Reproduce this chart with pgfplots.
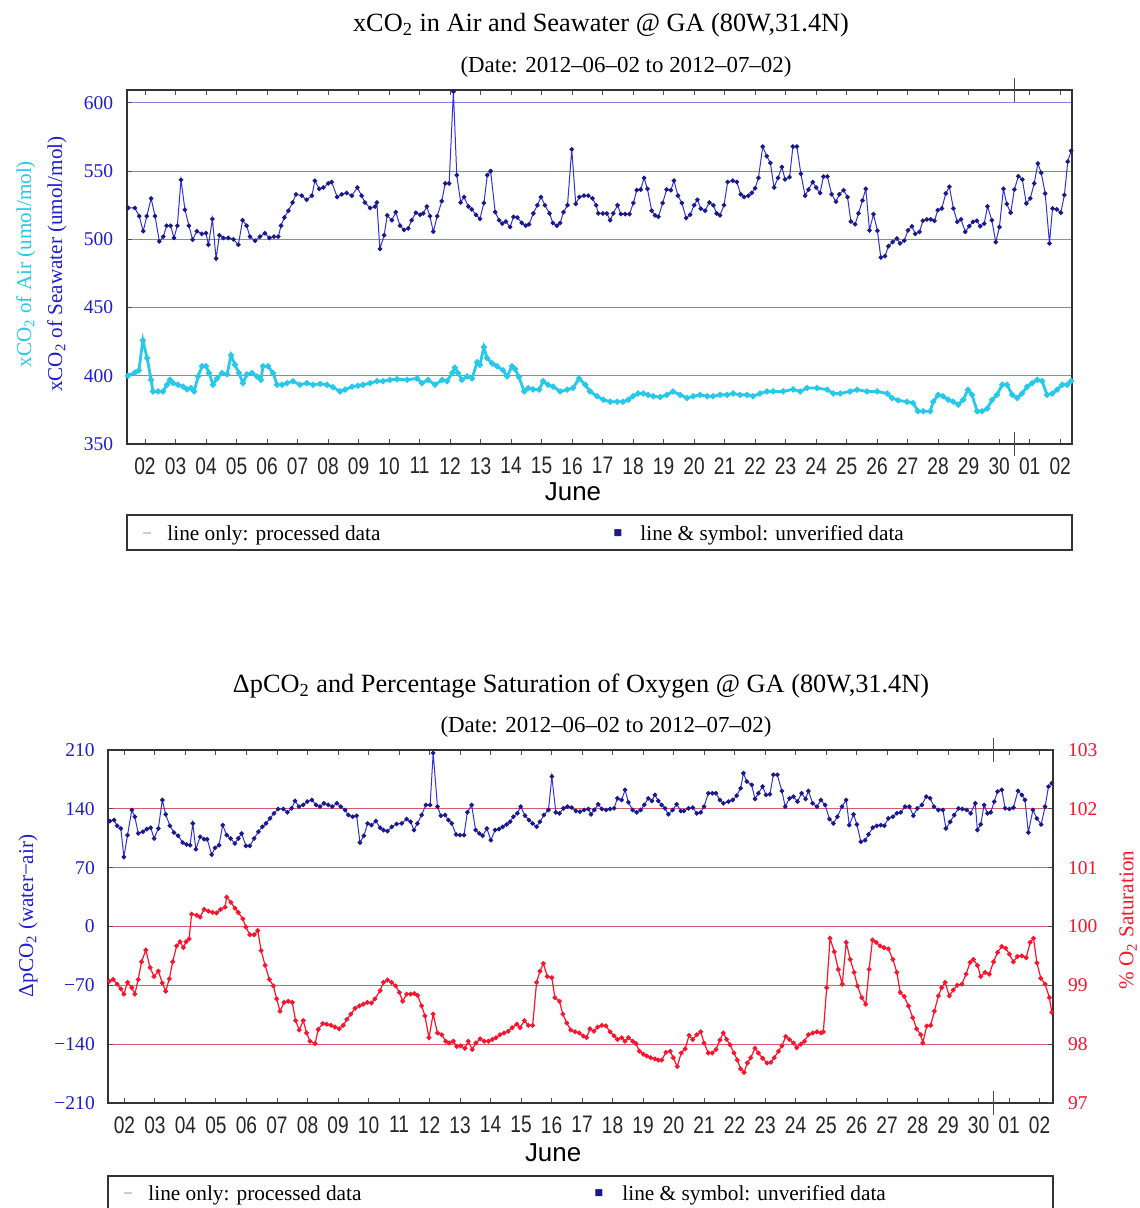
\documentclass[border=0pt]{standalone}
\usepackage{fontspec}
\setmainfont{Liberation Serif}
\setsansfont{Liberation Sans}
\newfontfamily\dejavu{DejaVu Sans}
\usepackage{graphicx}
\usepackage{pgfplots}
\usepackage{pgfplotstable}
\pgfplotsset{compat=1.18}

\definecolor{swblue}{RGB}{50,50,215}
\definecolor{swmark}{RGB}{25,25,140}
\definecolor{aircyan}{RGB}{40,200,235}
\definecolor{gridblue}{RGB}{130,130,225}
\definecolor{gridred}{RGB}{215,90,110}
\definecolor{o2red}{RGB}{250,20,45}
\definecolor{lblblue}{RGB}{30,30,205}
\newcommand{\xl}[1]{\scalebox{1}[1.25]{#1}}

\pgfplotstableread{
d v
1.45 523
1.67 523
1.81 517
1.94 506
2.06 517
2.20 530
2.33 517
2.47 498.5
2.60 502
2.71 510
2.84 510
2.95 501
3.06 510
3.18 543.6
3.31 521.7
3.44 510
3.56 499.7
3.70 506
3.86 504
4.00 504.5
4.08 496
4.21 514.9
4.33 486
4.44 503
4.57 501
4.73 501
4.90 500
5.06 496
5.20 514
5.33 510
5.44 502
5.61 499
5.77 502
5.93 504.5
6.08 501
6.23 502
6.37 502
6.46 510
6.57 516
6.70 521
6.84 527
6.95 533
7.14 532
7.30 529
7.47 532
7.57 543
7.71 537
7.85 538
8.01 541
8.12 542
8.30 531
8.45 533
8.61 534
8.78 532
8.96 538
9.10 532
9.21 527
9.38 523
9.54 524
9.60 527
9.70 493
9.84 503
9.94 517.6
10.09 514
10.22 520
10.36 510
10.49 507
10.63 508
10.74 514
10.88 519.5
11.02 518
11.12 519
11.24 524
11.34 517
11.45 505.6
11.58 517
11.73 528
11.84 541
11.97 541
12.11 608.3
12.22 547
12.35 527
12.46 531
12.60 524
12.71 522
12.85 518
12.98 515
13.11 526.6
13.22 547
13.33 550
13.48 520
13.61 514
13.71 511.5
13.83 513
13.97 509
14.08 516.5
14.21 516
14.35 512
14.48 510
14.59 511
14.73 519
14.86 525
14.98 531
15.11 525
15.26 519
15.37 512
15.50 510
15.61 512
15.72 520
15.85 525
15.99 566
16.12 526
16.24 531
16.39 532
16.53 532
16.67 530
16.79 525
16.86 519
17.01 519
17.14 519
17.25 514
17.35 519
17.49 525
17.60 518.5
17.74 518.5
17.88 518.5
18.01 526.6
18.12 536
18.25 536.5
18.36 545
18.47 537
18.61 521
18.72 517.6
18.83 516.5
18.97 526.6
19.10 536.5
19.24 536
19.34 543
19.47 532
19.60 526.6
19.74 515.6
19.87 518
20.00 525
20.11 529
20.22 522.5
20.36 521
20.50 527
20.63 525
20.74 519
20.85 517.6
20.98 525
21.10 542
21.27 543
21.40 542
21.53 533
21.64 531
21.78 532
21.89 534
22.00 537.5
22.11 545
22.25 568
22.38 561
22.50 556
22.62 538
22.75 545
22.88 553
22.98 544
23.13 545.6
23.24 568
23.37 568
23.50 548
23.64 532
23.75 536.5
23.89 542
24.00 538
24.13 534
24.24 546
24.37 546
24.51 533
24.65 527.6
24.76 533
24.90 536
25.03 531
25.14 513
25.28 511
25.39 519
25.52 528.6
25.63 537
25.75 506.6
25.88 518.5
26.01 506.3
26.12 486.7
26.26 487.7
26.37 495
26.51 498
26.65 500.6
26.75 497
26.89 499
27.01 506.6
27.14 509.5
27.25 504
27.39 505.5
27.50 513.6
27.63 514.6
27.76 514.6
27.88 513.6
27.99 521.4
28.12 522.6
28.25 533.6
28.37 538.5
28.50 522.6
28.63 512.8
28.75 514.6
28.89 505.5
29.02 509.6
29.14 512.8
29.27 513.6
29.38 509.6
29.51 511.5
29.62 524.2
29.76 514
29.89 498
30.01 509
30.14 537
30.25 525.9
30.38 519.5
30.50 536.6
30.63 546.3
30.76 543.9
30.89 526.3
31.02 530
31.15 541
31.27 555.6
31.38 548.8
31.51 533.6
31.65 497
31.75 522.6
31.89 522
32.02 519.5
32.14 532.5
32.25 557
32.36 565
}\seawater

\pgfplotstableread{
d v
1.44 400
1.67 402.4
1.80 404
1.93 426
2.07 413
2.20 397
2.26 388.5
2.43 388.5
2.59 388.5
2.72 393.4
2.82 397
2.92 394.6
3.08 393.4
3.25 392
3.38 390
3.51 391
3.61 388.5
3.74 399.5
3.87 407
4.00 407
4.10 402
4.23 393.4
4.36 398
4.52 402
4.69 401
4.82 415
4.95 408
5.08 402
5.21 394.6
5.34 401
5.51 402
5.67 399.5
5.80 397
5.87 407
6.03 407
6.20 402
6.33 393.4
6.49 393.4
6.66 394.6
6.85 396
7.08 393.4
7.31 394.6
7.51 393.4
7.74 394
7.97 393.4
8.16 391.7
8.39 388.5
8.56 389.8
8.79 392
8.98 392.7
9.15 393.4
9.38 394.6
9.61 396
9.80 396
10.03 397
10.26 397.5
10.59 397
10.92 398
11.08 394.6
11.28 397
11.51 393.4
11.74 397
11.90 396
12.07 402
12.16 406
12.26 402
12.39 397
12.56 399.5
12.72 398
12.89 410
12.98 408
13.11 421
13.21 413
13.38 409
13.54 407
13.74 404
13.87 399.5
14.03 407
14.13 405
14.26 399
14.43 388.5
14.56 391
14.72 390
14.92 389.8
15.05 396
15.21 393.4
15.38 392
15.61 388.5
15.84 389.8
16.03 391
16.23 398
16.43 393.4
16.59 388.5
16.82 385
17.02 382.4
17.25 381
17.48 381
17.67 381
17.84 382.4
18.00 385
18.16 387
18.33 387
18.49 386
18.66 385
18.89 384.4
19.11 386
19.31 388.5
19.54 386
19.77 383.7
19.97 385
20.20 386
20.43 385
20.62 385
20.85 386
21.08 386
21.28 387
21.51 386
21.74 386
21.93 385
22.16 387
22.39 388.5
22.59 388.5
22.92 388.5
23.25 390
23.48 388.5
23.70 391
24.03 391
24.36 389.8
24.56 387
24.79 387
25.11 388.5
25.34 389.8
25.67 388.5
26.00 388.5
26.33 387
26.49 383.7
26.69 382
26.98 381
27.18 380
27.34 374
27.51 374
27.74 374
27.84 381
28.00 386
28.16 385
28.33 382.4
28.49 381
28.66 378.8
28.82 382.4
28.98 389.8
29.11 386
29.28 374
29.44 374
29.61 376
29.77 382.4
29.93 386
30.10 393.4
30.26 393.4
30.43 386
30.59 383.7
30.75 387
30.92 392
31.08 394.6
31.25 397
31.41 396
31.57 386
31.74 387
31.90 389.8
32.07 393.4
32.23 393.4
32.36 396
}\air

\pgfplotstableread{
d v
1.52 125.4
1.66 126.6
1.76 119.8
1.88 116.6
1.98 82.8
2.10 108.7
2.24 138.6
2.34 130.6
2.45 110.7
2.60 112.7
2.73 115.9
2.86 117.5
2.97 104.7
3.11 116.6
3.24 150.5
3.35 133.4
3.49 119.8
3.62 111.8
3.76 107.9
3.91 99.9
4.04 97.5
4.15 96.7
4.24 122.6
4.34 91.9
4.48 106.7
4.61 103.9
4.71 103.9
4.86 85.5
4.97 93.5
5.10 96.7
5.22 120.6
5.35 108.7
5.48 104.7
5.62 98.7
5.73 104.7
5.84 110.7
5.98 95.9
6.11 95.9
6.25 104.7
6.39 112.7
6.52 118.6
6.64 122.6
6.77 128.6
6.90 134.6
7.04 139.8
7.21 139.8
7.34 135.8
7.48 140.6
7.59 149.4
7.72 142.6
7.86 144.6
7.99 148.6
8.14 150.5
8.28 144.6
8.41 142.6
8.54 146.6
8.68 144.6
8.81 142.6
8.96 146.6
9.09 142.6
9.23 138.6
9.34 132.6
9.48 130.6
9.61 131.8
9.72 99.9
9.85 107.9
9.97 122.6
10.10 120.6
10.24 125.4
10.38 117.5
10.49 114.7
10.62 113.5
10.76 118.5
10.92 122
11.09 122.6
11.25 127.8
11.38 124.6
11.49 114.7
11.60 122.6
11.74 132.6
11.88 144.6
12.02 144.6
12.12 206.4
12.26 142.6
12.37 131.8
12.51 132.6
12.62 126.6
12.73 122.6
12.87 109.5
13.00 108.7
13.13 108.7
13.24 135.8
13.38 144.6
13.51 114.7
13.63 110.7
13.74 107.9
13.88 116.6
14.01 102.7
14.15 114.7
14.28 115.9
14.40 118.6
14.53 121.4
14.64 124.6
14.75 130.6
14.88 134.6
14.99 142.6
15.13 131.8
15.26 126.6
15.38 122.6
15.51 118.6
15.62 124.6
15.75 132.6
15.90 138.6
16.01 178.5
16.14 135.8
16.26 134.6
16.39 140.6
16.52 142.6
16.66 141.4
16.80 137.4
16.93 136.6
17.07 138.6
17.21 139.8
17.29 133.4
17.40 138.6
17.53 145.4
17.65 139.8
17.79 138.6
17.92 139.8
18.05 140.6
18.16 152.5
18.30 150.5
18.41 162.5
18.52 147.8
18.66 138.6
18.79 135.8
18.92 138.6
19.04 144.6
19.17 152.5
19.29 149.4
19.39 156.5
19.50 149.4
19.61 144.6
19.72 140.6
19.83 133.4
19.97 138.6
20.10 145.4
20.24 137.4
20.34 137.4
20.49 140.6
20.63 141.4
20.76 134.6
20.89 135.8
21.00 142.6
21.14 158.5
21.27 158.5
21.39 158.5
21.52 150.5
21.63 146.6
21.80 148.6
21.94 150.5
22.07 155.7
22.20 164.5
22.29 182.4
22.40 172.5
22.56 168.5
22.67 151.7
22.78 158.5
22.92 166.5
23.03 156.5
23.16 157.3
23.27 180.5
23.40 180.5
23.55 161.3
23.66 142.6
23.80 152.5
23.93 154.5
24.06 148.6
24.20 158.5
24.33 151.7
24.42 161.3
24.56 146.6
24.70 142.6
24.83 150.5
24.97 144.6
25.11 127.8
25.24 122.6
25.37 130.6
25.52 142.6
25.66 150.5
25.76 120.6
25.90 133.4
26.01 121.4
26.14 100.7
26.28 102.7
26.39 109.5
26.53 117.5
26.66 119.8
26.79 120.6
26.91 119.8
27.04 128.6
27.19 130.6
27.32 134.6
27.45 135.8
27.59 142.6
27.73 142.6
27.86 131.8
27.99 140.6
28.14 144.6
28.28 154.5
28.41 152.5
28.54 142.6
28.68 138.6
28.83 138.6
28.93 116.6
29.07 124.6
29.20 132.6
29.34 140.6
29.47 139.8
29.61 138.6
29.74 134.6
29.89 146.6
29.96 114.7
30.07 121.4
30.18 144.6
30.29 134.6
30.40 135.8
30.51 148.6
30.62 160.5
30.76 162.5
30.87 140.6
31.01 139.8
31.14 141.4
31.29 161.3
31.42 156.5
31.52 150.5
31.63 111.8
31.78 138.6
31.91 128.6
32.05 121.4
32.18 142.6
32.29 166.5
32.40 170.5
}\dpco

\pgfplotstableread{
d v
1.50 99.07
1.63 99.10
1.76 99.02
1.88 98.94
1.98 98.85
2.10 99.05
2.24 98.96
2.34 98.85
2.45 99.10
2.56 99.40
2.70 99.60
2.84 99.30
2.97 99.15
3.11 99.24
3.24 99.04
3.35 98.90
3.47 99.11
3.58 99.40
3.71 99.67
3.82 99.74
3.93 99.64
4.02 99.74
4.12 99.79
4.20 100.21
4.37 100.19
4.48 100.16
4.61 100.29
4.75 100.26
4.89 100.24
5.02 100.23
5.15 100.29
5.30 100.33
5.35 100.50
5.49 100.41
5.62 100.31
5.73 100.24
5.88 100.13
5.98 99.99
6.11 99.86
6.25 99.86
6.37 99.93
6.48 99.59
6.61 99.34
6.75 99.10
6.88 98.99
6.99 98.77
7.10 98.56
7.23 98.71
7.37 98.73
7.50 98.71
7.61 98.40
7.73 98.24
7.86 98.40
7.97 98.19
8.08 98.05
8.25 98.01
8.35 98.25
8.50 98.35
8.63 98.34
8.77 98.32
8.90 98.29
9.04 98.26
9.17 98.32
9.29 98.42
9.42 98.51
9.56 98.61
9.70 98.65
9.83 98.68
9.96 98.71
10.10 98.70
10.21 98.77
10.38 98.91
10.49 99.05
10.62 99.09
10.76 99.05
10.89 98.99
11.01 98.88
11.12 98.73
11.25 98.85
11.38 98.85
11.50 98.86
11.61 98.83
11.74 98.65
11.85 98.48
11.98 98.11
12.12 98.51
12.26 98.19
12.40 98.16
12.53 98.05
12.65 98.02
12.78 98.05
12.89 97.96
13.02 97.97
13.16 97.93
13.27 98.05
13.40 97.91
13.52 98.02
13.66 98.09
13.79 98.05
13.93 98.05
14.06 98.08
14.18 98.11
14.31 98.16
14.44 98.19
14.58 98.22
14.71 98.28
14.86 98.34
14.97 98.28
15.11 98.40
15.24 98.32
15.38 98.32
15.51 99.05
15.62 99.24
15.73 99.37
15.86 99.15
16.01 99.13
16.11 98.79
16.26 98.73
16.37 98.51
16.50 98.36
16.63 98.24
16.77 98.21
16.91 98.19
17.04 98.14
17.15 98.11
17.26 98.26
17.39 98.22
17.51 98.29
17.65 98.32
17.78 98.31
17.92 98.21
18.05 98.14
18.16 98.08
18.30 98.11
18.41 98.05
18.52 98.11
18.66 98.05
18.77 98.01
18.88 97.88
19.01 97.83
19.12 97.80
19.25 97.77
19.39 97.75
19.50 97.73
19.61 97.73
19.75 97.86
19.89 97.88
19.99 97.77
20.12 97.62
20.25 97.85
20.38 97.92
20.51 98.15
20.63 98.08
20.76 98.16
20.89 98.21
21.00 98.02
21.14 97.85
21.27 97.85
21.39 97.91
21.52 98.07
21.63 98.19
21.74 98.08
21.85 97.99
21.98 97.85
22.09 97.73
22.20 97.58
22.31 97.52
22.42 97.68
22.53 97.77
22.67 97.93
22.78 97.85
22.92 97.76
23.06 97.68
23.19 97.69
23.30 97.77
23.44 97.88
23.55 97.97
23.68 98.13
23.80 98.08
23.93 98.02
24.04 97.94
24.17 98.00
24.29 98.05
24.42 98.16
24.56 98.19
24.70 98.21
24.83 98.19
24.91 98.21
25.02 98.96
25.13 99.80
25.27 99.57
25.40 99.27
25.53 99.02
25.66 99.73
25.79 99.44
25.92 99.22
26.03 98.99
26.17 98.79
26.30 98.68
26.41 99.27
26.52 99.77
26.64 99.73
26.77 99.67
26.90 99.64
27.04 99.62
27.19 99.44
27.32 99.22
27.43 98.88
27.56 98.81
27.70 98.65
27.84 98.45
27.97 98.26
28.10 98.16
28.17 98.02
28.30 98.31
28.43 98.32
28.55 98.56
28.68 98.82
28.79 98.96
28.90 99.05
29.04 98.82
29.17 98.92
29.30 99.00
29.45 99.02
29.59 99.19
29.72 99.39
29.83 99.44
29.96 99.34
30.07 99.15
30.21 99.22
30.35 99.19
30.49 99.40
30.62 99.56
30.76 99.66
30.89 99.63
31.01 99.53
31.14 99.40
31.27 99.49
31.42 99.50
31.56 99.47
31.69 99.73
31.80 99.80
31.91 99.38
32.04 99.12
32.18 99.02
32.32 98.79
32.40 98.54
}\otwo

\pgfplotsset{
  dayaxis/.style={
    scale only axis,
    axis line style={line width=1.1bp, black!80},
    tick style={black!70, line width=0.5bp},
    major tick length=2.5bp,
    xtick={2,...,32},
    xticklabels={\xl{02},\xl{03},\xl{04},\xl{05},\xl{06},\xl{07},\xl{08},\xl{09},\xl{10},\xl{11},\xl{12},\xl{13},\xl{14},\xl{15},\xl{16},\xl{17},\xl{18},\xl{19},\xl{20},\xl{21},\xl{22},\xl{23},\xl{24},\xl{25},\xl{26},\xl{27},\xl{28},\xl{29},\xl{30},\xl{01},\xl{02}},
    xtick pos=both, xticklabel pos=lower,
    xticklabel style={font=\sffamily\fontsize{9.6}{10}\selectfont, text=black!85, yshift=-3.2bp},
    extra x ticks={30.5}, extra x tick labels={},
    extra x tick style={major tick length=12bp, tick align=center},
    xlabel={June},
    ytick pos=left,
  }
}

\begin{document}
\begin{tikzpicture}[x=0.5bp,y=0.5bp]
\path[use as bounding box] (0,0) rectangle (1140,1208);
\begin{scope}
\clip (0,0) rectangle (1140,1208);
\fill[white] (0,0) rectangle (1140,1208);

% ---------- top chart ----------
\node[font=\fontsize{13.2}{15}\selectfont] at (601,1183) {xCO\textsubscript{2} in Air and Seawater @ GA (80W,31.4N)};
\node[font=\fontsize{11.5}{13}\selectfont] at (626,1141) {(Date: 2012–06–02 to 2012–07–02)};

\begin{axis}[dayaxis,
  at={(63.5bp,382bp)}, anchor=south west,
  width=472.5bp, height=177bp,
  xmin=1.41, xmax=32.39, ymin=350, ymax=609.5,
  ytick={350,400,450,500,550,600},
  yticklabels={350,400,450,500,550,600},
  yticklabel style={font=\fontsize{9.8}{10}\selectfont, text=lblblue, xshift=-3.4bp},
  ymajorgrids, grid style={gridblue, line width=0.45bp},
  xlabel style={font=\sffamily\fontsize{13}{14}\selectfont, at={(axis description cs:0.472,-0.135)}, anchor=center},
  ylabel={\textcolor{aircyan}{xCO\textsubscript{2} of Air (umol/mol)}\\[2.8bp]\textcolor{lblblue}{xCO\textsubscript{2} of Seawater (umol/mol)}},
  ylabel style={font=\fontsize{10.6}{12.7}\selectfont, align=center, at={(axis description cs:-0.0905,0.508)}, anchor=center},
]
\addplot[aircyan, line width=1.4bp, mark=*, mark size=0.7bp, mark options={aircyan}] table[x=d,y=v]{\air};
\addplot[swblue, line width=0.5bp, mark=*, mark size=0.9bp, mark options={swmark, fill=swmark}] table[x=d,y=v]{\seawater};
\end{axis}

% top legend
\draw[black!80, line width=1bp] (127,693) rectangle (1072,658);
\draw[gray!40, line width=1bp] (143,675) -- (151,675);
\node[anchor=west, inner sep=0pt, font=\fontsize{10.7}{12}\selectfont] at (167,673) {line only: processed data};
\node[inner sep=0pt, text=swmark, font=\dejavu\fontsize{4.6}{5}\selectfont] at (618,675) {■};
\node[anchor=west, inner sep=0pt, font=\fontsize{10.7}{12}\selectfont] at (640,673) {line \& symbol: unverified data};

% ---------- bottom chart ----------
\node[font=\fontsize{13.2}{15}\selectfont] at (581,522) {ΔpCO\textsubscript{2} and Percentage Saturation of Oxygen @ GA (80W,31.4N)};
\node[font=\fontsize{11.5}{13}\selectfont] at (606,481) {(Date: 2012–06–02 to 2012–07–02)};

\begin{axis}[dayaxis,
  at={(54bp,52.5bp)}, anchor=south west,
  width=472.5bp, height=176.5bp,
  xmin=1.46, xmax=32.44, ymin=-210, ymax=210,
  ytick={-210,-140,-70,0,70,140,210},
  yticklabels={−210,−140,−70,0,70,140,210},
  yticklabel style={font=\fontsize{9.8}{10}\selectfont, text=lblblue, xshift=-3.1bp},
  ymajorgrids, grid style={gridred, line width=0.45bp},
  xlabel style={font=\sffamily\fontsize{13}{14}\selectfont, at={(axis description cs:0.471,-0.142)}, anchor=center},
  ylabel={ΔpCO\textsubscript{2} (water−air)},
  ylabel style={font=\fontsize{10.6}{12.7}\selectfont, text=lblblue, at={(axis description cs:-0.0847,0.53)}, anchor=center},
]
\addplot[swblue, line width=0.5bp, mark=*, mark size=0.9bp, mark options={swmark, fill=swmark}] table[x=d,y=v]{\dpco};
\end{axis}

\begin{axis}[
  at={(54bp,52.5bp)}, anchor=south west,
  scale only axis, width=472.5bp, height=176.5bp,
  xmin=1.46, xmax=32.44, ymin=97, ymax=103,
  axis x line=none, axis y line*=right,
  axis line style={line width=1.1bp, black!80},
  tick style={black!70, line width=0.5bp}, major tick length=2.5bp,
  ytick={97,98,99,100,101,102,103},
  yticklabels={97,98,99,100,101,102,103},
  yticklabel style={font=\fontsize{9.8}{10}\selectfont, text=o2red, xshift=4bp},
  ylabel={\% O\textsubscript{2} Saturation},
  ylabel style={font=\fontsize{10.6}{12.7}\selectfont, text=o2red, at={(axis description cs:1.0794,0.518)}, anchor=center},
]
\addplot[o2red, line width=0.6bp, mark=*, mark size=0.9bp, mark options={o2red}] table[x=d,y=v]{\otwo};
\end{axis}

% bottom legend
\draw[black!80, line width=1bp] (108,32) rectangle (1053,-20);
\draw[gray!40, line width=1bp] (124,15) -- (132,15);
\node[anchor=west, inner sep=0pt, font=\fontsize{10.7}{12}\selectfont] at (148,13) {line only: processed data};
\node[inner sep=0pt, text=swmark, font=\dejavu\fontsize{4.6}{5}\selectfont] at (599,15) {■};
\node[anchor=west, inner sep=0pt, font=\fontsize{10.7}{12}\selectfont] at (622,13) {line \& symbol: unverified data};
\end{scope}
\end{tikzpicture}
\end{document}
